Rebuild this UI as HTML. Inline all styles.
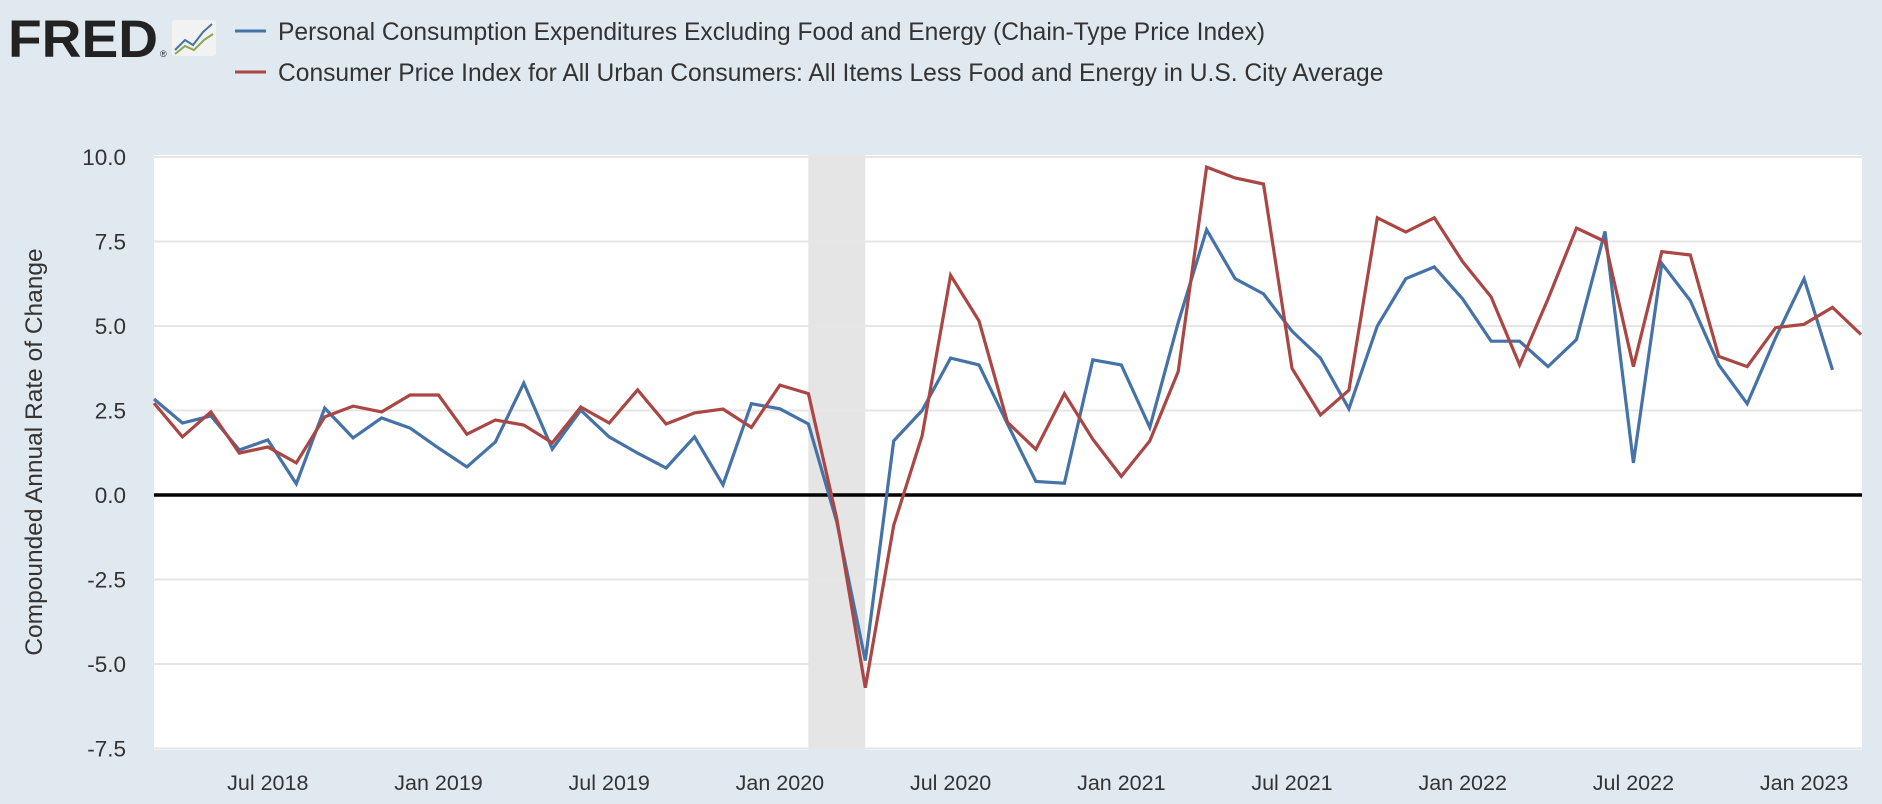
<!DOCTYPE html>
<html><head><meta charset="utf-8"><style>
html,body{margin:0;padding:0;background:#e1e9f0;}
svg{display:block;font-family:"Liberation Sans",sans-serif;}
</style></head><body>
<svg id="chart" width="1882" height="804" viewBox="0 0 1882 804">
<rect x="0" y="0" width="1882" height="804" fill="#e1e9f0"/>
<g>
<text x="8" y="57" font-size="53" font-weight="bold" fill="#222" textLength="150" lengthAdjust="spacingAndGlyphs">FRED</text>
<text x="160" y="57" font-size="9" fill="#222">®</text>
<rect x="172" y="20" width="44" height="36" fill="#f2f2f2" rx="3"/>
<polyline points="175,50 185,40 193,45 203,32 212,24" fill="none" stroke="#4572a7" stroke-width="2"/>
<polyline points="175,54 185,46 194,50 204,40 213,34" fill="none" stroke="#8aa84b" stroke-width="2"/>
</g>
<g>
<line x1="235" y1="31" x2="266" y2="31" stroke="#4572a7" stroke-width="3"/>
<text x="278" y="40" font-size="24.6" fill="#333">Personal Consumption Expenditures Excluding Food and Energy (Chain-Type Price Index)</text>
<line x1="235" y1="72" x2="266" y2="72" stroke="#aa4643" stroke-width="3"/>
<text x="278" y="81" font-size="24.6" fill="#333">Consumer Price Index for All Urban Consumers: All Items Less Food and Energy in U.S. City Average</text>
</g>
<rect x="154" y="155" width="1708" height="595" fill="#fff"/>
<g id="rec"></g>
<g id="grid"></g>
<g id="ylabels"></g>
<g id="xlabels"></g>
<g id="series"></g>
<text transform="translate(42,452) rotate(-90)" text-anchor="middle" font-size="24.5" fill="#333">Compounded Annual Rate of Change</text>
</svg>
<script>
const months = ["2018-03","2018-04","2018-05","2018-06","2018-07","2018-08","2018-09","2018-10","2018-11","2018-12","2019-01","2019-02","2019-03","2019-04","2019-05","2019-06","2019-07","2019-08","2019-09","2019-10","2019-11","2019-12","2020-01","2020-02","2020-03","2020-04","2020-05","2020-06","2020-07","2020-08","2020-09","2020-10","2020-11","2020-12","2021-01","2021-02","2021-03","2021-04","2021-05","2021-06","2021-07","2021-08","2021-09","2021-10","2021-11","2021-12","2022-01","2022-02","2022-03","2022-04","2022-05","2022-06","2022-07","2022-08","2022-09","2022-10","2022-11","2022-12","2023-01","2023-02","2023-03"];
const pceValues = [2.84,2.13,2.34,1.33,1.63,0.33,2.57,1.69,2.28,1.98,1.39,0.83,1.57,3.31,1.36,2.51,1.72,1.24,0.8,1.72,0.3,2.7,2.55,2.1,-0.8,-4.9,1.6,2.5,4.05,3.85,2.1,0.4,0.35,4.0,3.85,2.0,5.1,7.85,6.4,5.95,4.85,4.05,2.55,5.0,6.4,6.75,5.8,4.55,4.55,3.8,4.6,7.8,0.95,6.85,5.75,3.85,2.7,4.65,6.4,3.7];
const cpiValues = [2.72,1.72,2.46,1.24,1.42,0.95,2.31,2.63,2.46,2.96,2.96,1.8,2.22,2.07,1.54,2.6,2.13,3.11,2.1,2.43,2.54,2.0,3.25,3.0,-0.7,-5.7,-0.9,1.75,6.5,5.15,2.15,1.35,3.0,1.65,0.55,1.6,3.65,9.7,9.38,9.2,3.75,2.37,3.1,8.2,7.78,8.2,6.9,5.86,3.85,5.8,7.9,7.5,3.8,7.2,7.1,4.1,3.8,4.95,5.05,5.55,4.75];
const yTicks = [-7.5,-5.0,-2.5,0.0,2.5,5.0,7.5,10.0];
const xTickLabels = ["Jul 2018","Jan 2019","Jul 2019","Jan 2020","Jul 2020","Jan 2021","Jul 2021","Jan 2022","Jul 2022","Jan 2023"];
const xTickMonths = ["2018-07","2019-01","2019-07","2020-01","2020-07","2021-01","2021-07","2022-01","2022-07","2023-01"];
const recession = ["2020-02","2020-04"];

const NS="http://www.w3.org/2000/svg";
const L=154,R=1862,T=155,B=750,step=28.45;
function xi(m){const [y,mo]=m.split("-").map(Number);return (y-2018)*12+(mo-3);}
function X(m){return L+xi(m)*step;}
function Y(v){return 495-v*33.8;}
function mk(tag,attrs,parent){const e=document.createElementNS(NS,tag);for(const k in attrs)e.setAttribute(k,attrs[k]);parent.appendChild(e);return e;}

const rec=document.getElementById('rec');
const rb=mk('rect',{x:X(recession[0]),y:T,width:X(recession[1])-X(recession[0]),height:B-T,fill:'#e5e5e5'},rec);



const grid=document.getElementById('grid'),yl=document.getElementById('ylabels');
yTicks.forEach(v=>{
  if(v!==0){const g=mk('line',{x1:L,x2:R,y1:Y(v),y2:Y(v),stroke:'#e6e6e6','stroke-width':2},grid);
  
  }
  const t=mk('text',{x:126,y:Y(v)+8,'text-anchor':'end','font-size':22.5,fill:'#333'},yl);
  t.textContent=v.toFixed(1);
  
  
});
const xl=document.getElementById('xlabels');
xTickLabels.forEach((lab,i)=>{
  const t=mk('text',{x:X(xTickMonths[i]),y:790,'text-anchor':'middle','font-size':21.5,fill:'#333'},xl);
  t.textContent=lab;
  
  
});
const ser=document.getElementById('series');
const zl=mk('line',{x1:L,x2:R,y1:Y(0),y2:Y(0),stroke:'#000','stroke-width':3.5},ser);


function line(vals,color,name){
  const pts=vals.map((v,i)=>X(months[i]).toFixed(1)+','+Y(v).toFixed(1)).join(' ');
  const p=mk('polyline',{points:pts,fill:'none',stroke:color,'stroke-width':3.2,'stroke-linejoin':'miter'},ser);
  
  
}
line(pceValues,'#4572a7','pce-line');
line(cpiValues,'#aa4643','cpi-line');
</script>
</body></html>
